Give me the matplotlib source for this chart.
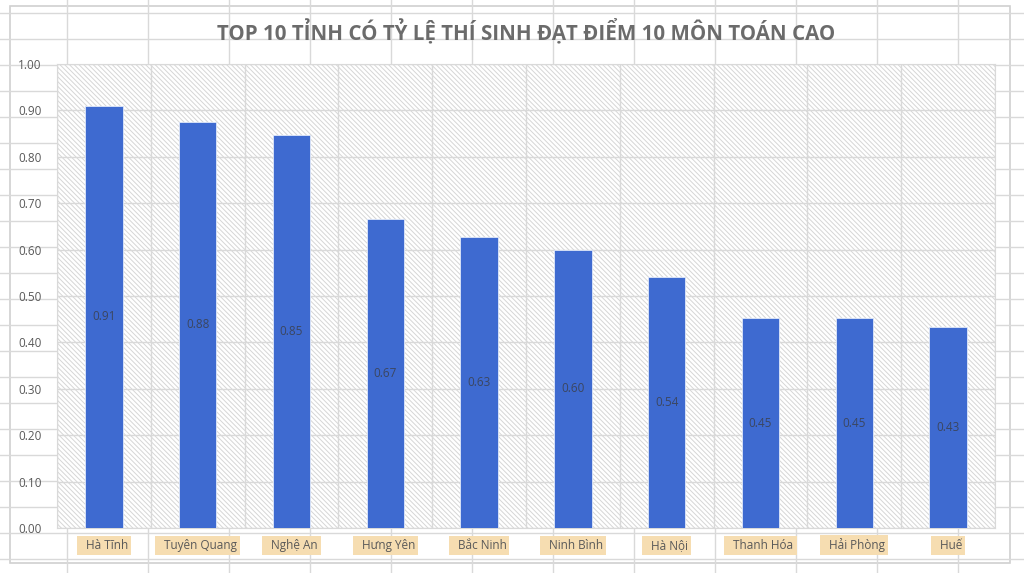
import matplotlib.pyplot as plt
from matplotlib.patches import Rectangle

# data
provinces = ['Hà Tĩnh', 'Tuyên Quang', 'Nghệ An', 'Hưng Yên', 'Bắc Ninh',
             'Ninh Bình', 'Hà Nội', 'Thanh Hóa', 'Hải Phòng', 'Huế']
ratios = [0.91, 0.875, 0.848, 0.666, 0.627, 0.60, 0.54, 0.452, 0.452, 0.433]
yticks = [0.0, 0.1, 0.2, 0.3, 0.4, 0.5, 0.6, 0.7, 0.8, 0.9, 1.0]
title = 'TOP 10 TỈNH CÓ TỶ LỆ THÍ SINH ĐẠT ĐIỂM 10 MÔN TOÁN CAO'

plt.rcParams['font.family'] = ['Open Sans', 'DejaVu Sans']
plt.rcParams['hatch.linewidth'] = 0.7

W, H = 1024, 573
fig = plt.figure(figsize=(W / 100, H / 100), dpi=100)

# spreadsheet cells behind the chart
bg = fig.add_axes([0, 0, 1, 1])
bg.set_xlim(0, W)
bg.set_ylim(H, 0)
bg.axis('off')
for x in range(67, W, 81):
    bg.axvline(x, color='#d9d9d9', lw=1)
for y in range(13, H, 26):
    bg.axhline(y, color='#d9d9d9', lw=1)
bg.add_patch(Rectangle((10, 6), 1000, 557, facecolor='white',
                       edgecolor='#d0d0d0', lw=1.2))

# chart
ax = fig.add_axes([57 / W, 1 - 528 / H, 938 / W, 464 / H])
ax.set_facecolor('white')
xs = range(len(provinces))
ax.add_patch(Rectangle((0, 0), 1, 1, transform=ax.transAxes, facecolor='white',
                       edgecolor='#d6d6d6', hatch='\\' * 7, lw=0, zorder=0))
bars = ax.bar(xs, ratios, width=0.4, color='#3e6ad0', edgecolor='#dfe8fa',
              lw=0.6, zorder=3)
ax.set_xlim(-0.5, len(provinces) - 0.5)
ax.set_ylim(0, 1.0)
ax.set_yticks(yticks)
ax.set_yticklabels(['%.2f' % v for v in yticks], fontsize=8.5, color='#595959')
ax.tick_params(axis='y', length=0, pad=11)
ax.set_xticks([])
for y in yticks:
    ax.axhline(y, color='#d9d9d9', lw=1, zorder=1)
for i in range(len(provinces) + 1):
    ax.axvline(i - 0.5, color='#d9d9d9', lw=1, zorder=1)
for s in ax.spines.values():
    s.set_color('#d9d9d9')

for i, v in enumerate(ratios):
    ax.text(i, v / 2, '%.2f' % v, ha='center', va='center', fontsize=8.5,
            color='#3b4660', zorder=4)
    ax.text(i, -0.037, '  ' + provinces[i], ha='center', va='center',
            fontsize=8.5, color='#595959',
            bbox=dict(boxstyle='square,pad=0.25', fc='#f6ddb1', ec='none'))

fig.text(526 / W, 1 - 33 / H, title, ha='center', va='center', fontsize=14.8,
         fontweight='bold', color='#6b6b6b')

fig.savefig('out.png', dpi=100)
